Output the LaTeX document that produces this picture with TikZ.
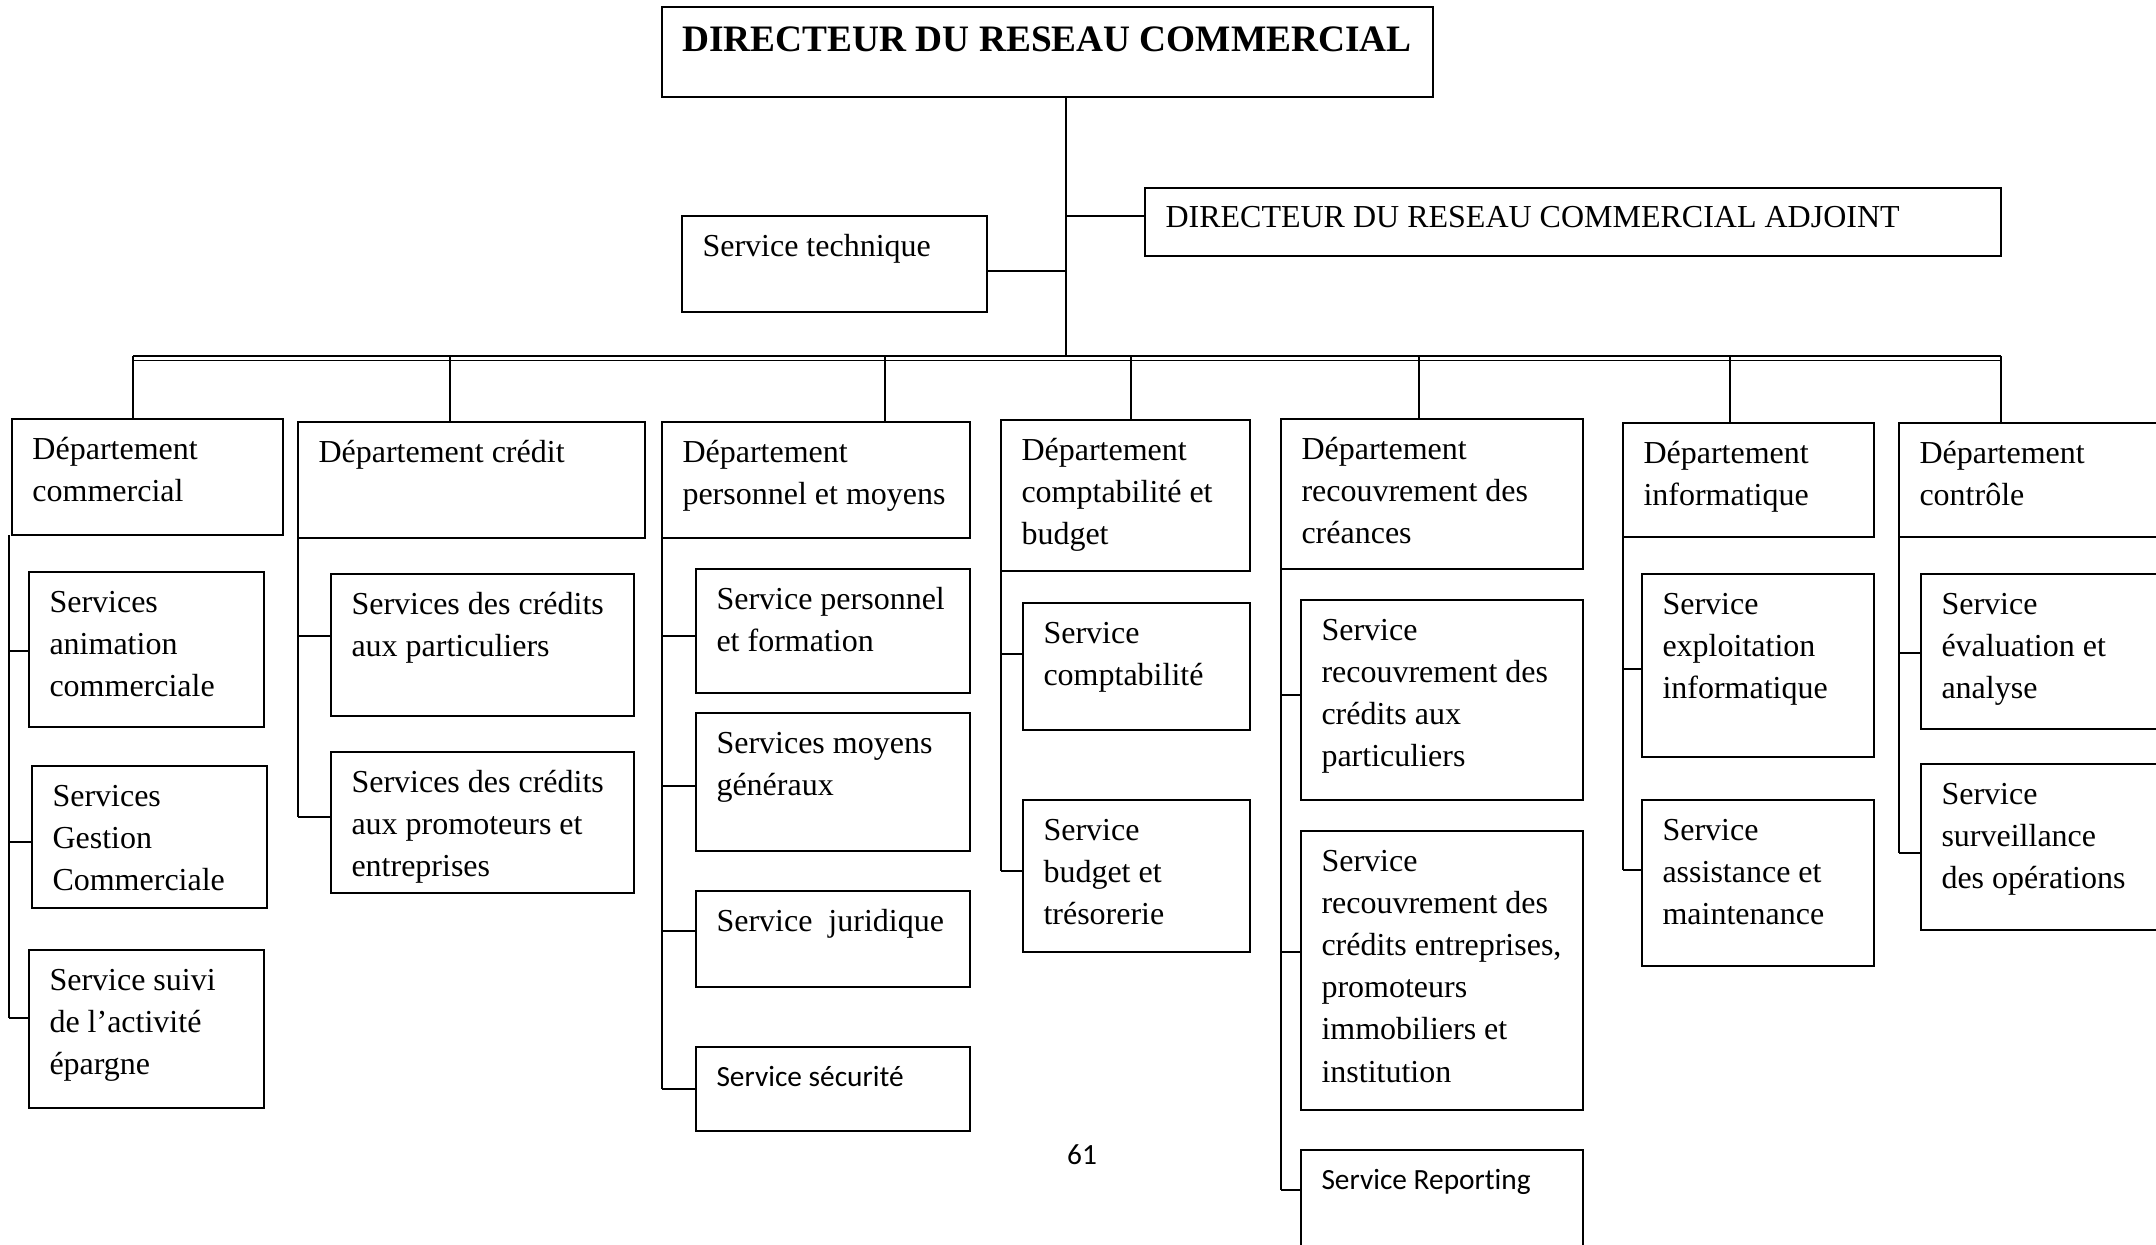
\documentclass[tikz,border=0pt]{standalone}
\usepackage{fontspec}
\setmainfont{Liberation Serif}
\newfontfamily\calib[Ligatures=NoCommon]{Carlito}
\usetikzlibrary{calc}
\newcommand\obox[5]{\node[box, minimum width={(#4-#2)*0.5pt}, minimum height={(#5-#3)*0.5pt}] (#1) at ({(#2+#4)/2},{(#3+#5)/2}) {};}
\newcommand\olbl[4]{\node[#1] (#2t) at ($(#2.north west)+(20.5,#3)$) {\strut #4};}
\newcommand\otick[3]{\coordinate (t#2) at ($(#2.west)+(0,#3)$); \draw[conn] (t#2 -| #1) -- (t#2);}
\begin{document}
\begin{tikzpicture}[x=0.5pt,y=-0.5pt,
 box/.style={draw, line width=1pt, inner sep=0pt, outer sep=0pt, rectangle},
 conn/.style={line width=1pt},
 busline/.style={line width=0.8pt},
 txt/.style={anchor=north west, inner sep=0pt, outer sep=0pt, align=left, font=\fontsize{16}{21.1}\selectfont},
 ctxt/.style={txt, font=\calib\fontsize{14.67}{17.6}\selectfont},
 ttxt/.style={txt, font=\fontsize{18.67}{22.4}\selectfont\bfseries}]
\useasboundingbox (0,0) rectangle (2156,1245);
\fill[white] (0,0) rectangle (2156,1245);
\clip (0,0) rectangle (2156,1245);

% boxes
\obox{dir}{662}{7}{1433}{97}
\obox{adj}{1145}{188}{2001}{256}
\obox{tech}{682}{216}{987}{312}
\obox{d1}{12}{419}{283}{535}
\obox{d2}{298}{422}{645}{538}
\obox{d3}{662}{422}{970}{538}
\obox{d4}{1001}{420}{1250}{571}
\obox{d5}{1281}{419}{1583}{569}
\obox{d6}{1623}{423}{1874}{537}
\obox{d7}{1899}{423}{2220}{537}
\obox{s1a}{29}{572}{264}{727}
\obox{s1b}{32}{766}{267}{908}
\obox{s1c}{29}{950}{264}{1108}
\obox{s2a}{331}{574}{634}{716}
\obox{s2b}{331}{752}{634}{893}
\obox{s3a}{696}{569}{970}{693}
\obox{s3b}{696}{713}{970}{851}
\obox{s3c}{696}{891}{970}{987}
\obox{s3d}{696}{1047}{970}{1131}
\obox{s4a}{1023}{603}{1250}{730}
\obox{s4b}{1023}{800}{1250}{952}
\obox{s5a}{1301}{600}{1583}{800}
\obox{s5b}{1301}{831}{1583}{1110}
\obox{s5c}{1301}{1150}{1583}{1320}
\obox{s6a}{1642}{574}{1874}{757}
\obox{s6b}{1642}{800}{1874}{966}
\obox{s7a}{1921}{574}{2220}{729}
\obox{s7b}{1921}{764}{2220}{930}

% texts
\olbl{ttxt}{dir}{13.6}{DIRECTEUR DU RESEAU COMMERCIAL}
\olbl{txt}{adj}{9.5}{DIRECTEUR DU RESEAU COMMERCIAL ADJOINT}
\olbl{txt}{tech}{10.5}{Service technique}
\olbl{txt}{d1}{10.5}{Département\\commercial}
\olbl{txt}{d2}{10.5}{Département crédit}
\olbl{txt}{d3}{10.5}{Département\\personnel et moyens}
\olbl{txt}{d4}{10.5}{Département\\comptabilité et\\budget}
\olbl{txt}{d5}{10.5}{Département\\recouvrement des\\créances}
\olbl{txt}{d6}{10.5}{Département\\informatique}
\olbl{txt}{d7}{10.5}{Département\\contrôle}
\olbl{txt}{s1a}{10.5}{Services\\animation\\commerciale}
\olbl{txt}{s1b}{10.5}{Services\\Gestion\\Commerciale}
\olbl{txt}{s1c}{10.5}{Service suivi\\de l’activité\\épargne}
\olbl{txt}{s2a}{10.5}{Services des crédits\\aux particuliers}
\olbl{txt}{s2b}{10.5}{Services des crédits\\aux promoteurs et\\entreprises}
\olbl{txt}{s3a}{10.5}{Service personnel\\et formation}
\olbl{txt}{s3b}{10.5}{Services moyens\\généraux}
\olbl{txt}{s3c}{10.5}{Service\ \ juridique}
\olbl{ctxt}{s3d}{14.9}{Service sécurité}
\olbl{txt}{s4a}{10.5}{Service\\comptabilité}
\olbl{txt}{s4b}{10.5}{Service\\budget et\\trésorerie}
\olbl{txt}{s5a}{10.5}{Service\\recouvrement des\\crédits aux\\particuliers}
\olbl{txt}{s5b}{10.5}{Service\\recouvrement des\\crédits entreprises,\\promoteurs\\immobiliers et\\institution}
\olbl{ctxt}{s5c}{14.9}{Service Reporting}
\olbl{txt}{s6a}{10.5}{Service\\exploitation\\informatique}
\olbl{txt}{s6b}{10.5}{Service\\assistance et\\maintenance}
\olbl{txt}{s7a}{10.5}{Service\\évaluation et\\analyse}
\olbl{txt}{s7b}{10.5}{Service\\surveillance\\des opérations}

% top connectors
\coordinate (tr) at (1066,356);
\draw[conn] (dir.south -| tr) -- (tr);
\coordinate (adjin) at ($(adj.west)+(0,-5.7)$);
\draw[conn] (adjin -| tr) -- (adjin);
\coordinate (techout) at ($(tech.east)+(0,7.5)$);
\draw[conn] (techout) -- (techout -| tr);

% bus (double line)
\coordinate (bl) at (133,356);
\coordinate (br) at (2001,356);
\draw[busline] (bl) -- (br);
\draw[busline] ($(bl)+(0,4.5)$) -- ($(br)+(0,4.5)$);
\coordinate (b1) at (133,356);
\coordinate (b2) at (450,356);
\coordinate (b3) at (885,356);
\coordinate (b4) at (1131,356);
\coordinate (b5) at (1419,356);
\coordinate (b6) at (1730,356);
\coordinate (b7) at (2001,356);
\foreach \i in {1,...,7} {\draw[conn] (b\i) -- (b\i |- d\i.north);}

% column 1
\coordinate (c1) at (9,535);
\otick{c1}{s1a}{1.5}
\otick{c1}{s1b}{5}
\otick{c1}{s1c}{-11}
\draw[conn] (c1) -- (c1 |- ts1c);
% column 2
\coordinate (c2) at (d2.south west);
\otick{c2}{s2a}{-9}
\otick{c2}{s2b}{-5.5}
\draw[conn] (c2) -- (c2 |- ts2b);
% column 3
\coordinate (c3) at (d3.south west);
\otick{c3}{s3a}{5}
\otick{c3}{s3b}{4}
\otick{c3}{s3c}{-8}
\otick{c3}{s3d}{0}
\draw[conn] (c3) -- (c3 |- ts3d);
% column 4
\coordinate (c4) at (d4.south west);
\otick{c4}{s4a}{-12.5}
\otick{c4}{s4b}{-5}
\draw[conn] (c4) -- (c4 |- ts4b);
% column 5
\coordinate (c5) at (d5.south west);
\otick{c5}{s5a}{-5}
\otick{c5}{s5b}{-18.5}
\otick{c5}{s5c}{-45}
\draw[conn] (c5) -- (c5 |- ts5c);
% column 6
\coordinate (c6) at (d6.south west);
\otick{c6}{s6a}{3.5}
\otick{c6}{s6b}{-13}
\draw[conn] (c6) -- (c6 |- ts6b);
% column 7
\coordinate (c7) at (d7.south west);
\otick{c7}{s7a}{1.5}
\otick{c7}{s7b}{6}
\draw[conn] (c7) -- (c7 |- ts7b);

% page number
\node[anchor=base, inner sep=0pt, font=\calib\fontsize{14.67}{17.6}\selectfont] (pg) at (1082,1164) {61};
\end{tikzpicture}
\end{document}
